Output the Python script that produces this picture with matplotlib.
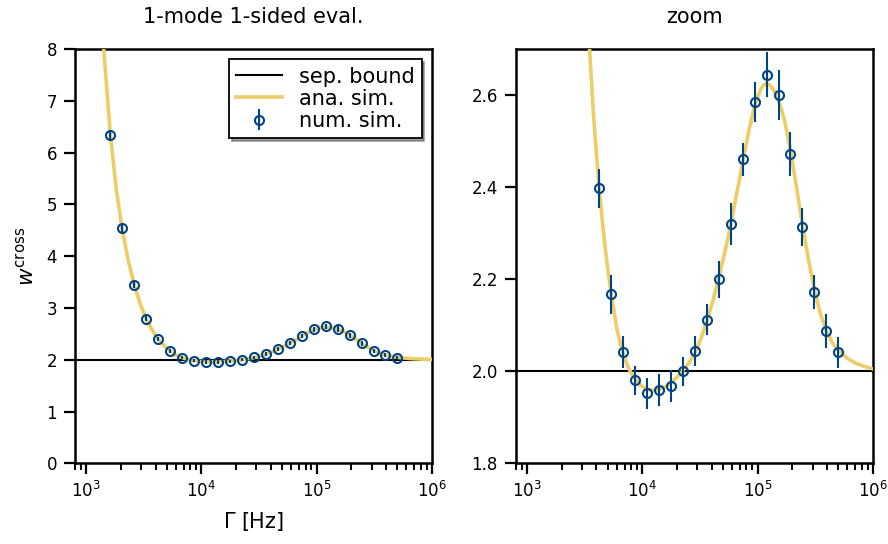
import matplotlib
matplotlib.use('Agg')
import matplotlib.pyplot as plt

plt.rcParams['font.family'] = ['DejaVu Sans']
plt.rcParams['mathtext.fontset'] = 'dejavusans'

# numerical simulation: Gamma [Hz], w_cross, error
gamma_num = [1622, 2061, 2616, 3319, 4217, 5358, 6800, 8630, 10965, 13930,
             17680, 22440, 28510, 36220, 45970, 58340, 74130, 94190, 119560,
             151710, 192750, 244910, 310890, 394460, 501190]
w_num = [6.33, 4.54, 3.44, 2.79, 2.397, 2.167, 2.042, 1.980, 1.952, 1.959,
         1.968, 2.000, 2.044, 2.112, 2.200, 2.320, 2.460, 2.585, 2.644,
         2.600, 2.472, 2.314, 2.173, 2.087, 2.041]
w_err = [0.10, 0.08, 0.06, 0.05, 0.042, 0.043, 0.035, 0.031, 0.034, 0.034,
         0.034, 0.031, 0.033, 0.034, 0.040, 0.045, 0.036, 0.043, 0.049,
         0.055, 0.047, 0.041, 0.037, 0.037, 0.033]

# analytical curve
gamma_ana = [1300, 1400, 1622, 1830, 2061, 2320, 2616, 2950, 3319, 3500,
             3740, 3970, 4217, 4480, 4750, 5050, 5358, 5680, 6030, 6400,
             6800, 7220, 7660, 8130, 8630, 9730, 10965, 12360, 13930, 15690,
             17680, 19920, 22440, 25300, 28510, 32130, 36220, 40800, 45970,
             48800, 51800, 55000, 58340, 62000, 65770, 70000, 74130, 78800,
             83560, 88700, 94190, 100000, 106100, 112000, 117000, 125000,
             134700, 142000, 151710, 161000, 171000, 181000, 192750, 204000,
             217300, 230000, 244910, 260000, 276000, 310890, 350200, 394460,
             444500, 501190, 600000, 700000, 850000, 1000000]
w_ana = [9.4, 8.17, 6.33, 5.26, 4.50, 3.91, 3.44, 3.07, 2.79, 2.69,
         2.57, 2.48, 2.40, 2.33, 2.27, 2.215, 2.17, 2.13, 2.09, 2.063,
         2.04, 2.02, 2.005, 1.993, 1.984, 1.969, 1.961, 1.958, 1.960, 1.966,
         1.975, 1.987, 2.001, 2.018, 2.040, 2.070, 2.108, 2.152, 2.202,
         2.230, 2.258, 2.287, 2.318, 2.352, 2.386, 2.420, 2.453, 2.487,
         2.520, 2.549, 2.574, 2.595, 2.612, 2.621, 2.624, 2.623,
         2.615, 2.604, 2.588, 2.568, 2.545, 2.515, 2.480, 2.442,
         2.400, 2.360, 2.318, 2.280, 2.243, 2.177, 2.125, 2.088,
         2.062, 2.045, 2.028, 2.018, 2.010, 2.005]

sep_bound = 2.0

blue = '#004488'
yellow = '#EECC66'

fig = plt.figure(figsize=(8.88, 5.44), dpi=100)
ax1 = fig.add_axes([0.0845, 0.1483, 0.402, 0.7617])
ax2 = fig.add_axes([0.581, 0.1483, 0.402, 0.7617])

for ax in (ax1, ax2):
    ax.axhline(sep_bound, color='black', lw=1.5, label='sep. bound', zorder=2)
    ax.plot(gamma_ana, w_ana, color=yellow, lw=2.6, label='ana. sim.', zorder=3)
    ax.errorbar(gamma_num, w_num, yerr=w_err, fmt='o', color=blue,
                mfc='none', mec=blue, ms=6.5, mew=1.5, elinewidth=1.5,
                capsize=0, label='num. sim.', zorder=4)
    ax.set_xscale('log')
    ax.set_xlim(800, 1e6)
    for s in ax.spines.values():
        s.set_linewidth(1.8)
    ax.tick_params(which='major', direction='out', length=8, width=1.6,
                   labelsize=12, pad=5)
    ax.tick_params(which='minor', direction='out', length=5, width=1.4)

ax1.set_ylim(0, 8)
ax1.set_yticks(range(0, 9))
ax1.set_title('1-mode 1-sided eval.', fontsize=15, pad=19)
ax1.set_xlabel(r'$\Gamma$ [Hz]', fontsize=15, labelpad=6)
ax1.set_ylabel(r'$w^{\mathrm{cross}}$', fontsize=15.5, labelpad=6)
leg = ax1.legend(loc='upper right', fontsize=15, fancybox=False,
                 shadow=True, framealpha=1, edgecolor='black',
                 handlelength=2.2, handletextpad=0.8, borderpad=0.35,
                 labelspacing=0.1)
leg.get_frame().set_linewidth(1.3)

ax2.set_ylim(1.8, 2.7)
ax2.set_yticks([1.8, 2.0, 2.2, 2.4, 2.6])
ax2.set_title('zoom', fontsize=15, pad=19)

fig.savefig('out.png', dpi=100)
